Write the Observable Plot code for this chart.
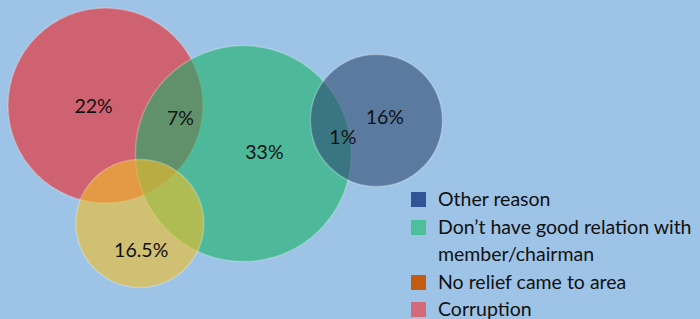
<!DOCTYPE html>
<html>
<head>
<meta charset="utf-8">
<script src="https://cdn.jsdelivr.net/npm/d3@7"></script>
<script src="https://cdn.jsdelivr.net/npm/@observablehq/plot@0.6"></script>
<style>
  html, body { margin: 0; padding: 0; background: #9dc3e6; }
  #wrap { position: relative; width: 700px; height: 319px; overflow: hidden; font-family: Lato, "Open Sans", sans-serif; }
  #legend { position: absolute; left: 411px; top: 185px; font-size: 19.5px; color: #111; line-height: 27.5px; }
  .row { display: flex; align-items: flex-start; }
  .sw { width: 15px; height: 15px; margin-top: 7px; margin-right: 12px; flex: none; }
</style>
</head>
<body>
<div id="wrap"></div>
<script>
// Bubble categories (draw order), centre positions in chart units, bubble radii in chart units
const categories = ["Corruption", "Don’t have good relation with member/chairman", "Other reason", "No relief came to area"];
const bubbleX = [15.0, 34.7, 53.7, 19.9];
const bubbleY = [67.1, 52.0, 62.4, 30.1];
const bubbleR = [9.75, 10.8, 6.6, 6.4];
const bubbleFill = ["#f02121", "#18b167", "#2f4971", "#f2be26"];

// Percentage labels
const labelText = ["22%", "7%", "33%", "1%", "16%", "16.5%"];
const labelX = [13.3, 25.7, 37.7, 48.9, 54.9, 20.1];
const labelY = [66.6, 62.9, 52.4, 57.1, 63.3, 21.6];

// Legend
const legendNames = ["Other reason", "Don’t have good relation with member/chairman", "No relief came to area", "Corruption"];
const legendColors = ["#2f5597", "#4dbf9a", "#c55a11", "#d36a7a"];

const bubbles = categories.map((c, i) => ({name: c, x: bubbleX[i], y: bubbleY[i], r: bubbleR[i], fill: bubbleFill[i]}));
const labels = labelText.map((t, i) => ({t, x: labelX[i], y: labelY[i]}));

const chart = Plot.plot({
  width: 700,
  height: 319,
  margin: 0,
  style: {background: "#9dc3e6", fontFamily: "Lato, 'Open Sans', sans-serif"},
  x: {domain: [0, 100], axis: null},
  y: {domain: [0, 100], axis: null},
  r: {type: "linear", domain: [0, 10], range: [0, 100]},
  marks: [
    Plot.dot(bubbles, {x: "x", y: "y", r: "r", fill: "fill", fillOpacity: 0.6, stroke: "white", strokeOpacity: 0.25, strokeWidth: 1.5, sort: null}),
    Plot.text(labels, {x: "x", y: "y", text: "t", fontSize: 19.5, fill: "#111"})
  ]
});
const wrap = document.getElementById("wrap");
wrap.appendChild(chart);

const legend = document.createElement("div");
legend.id = "legend";
legendNames.forEach((n, i) => {
  const row = document.createElement("div");
  row.className = "row";
  const sw = document.createElement("div");
  sw.className = "sw";
  sw.style.background = legendColors[i];
  const tx = document.createElement("div");
  tx.style.width = "285px";
  tx.textContent = n;
  row.appendChild(sw);
  row.appendChild(tx);
  legend.appendChild(row);
});
wrap.appendChild(legend);
</script>
</body>
</html>
